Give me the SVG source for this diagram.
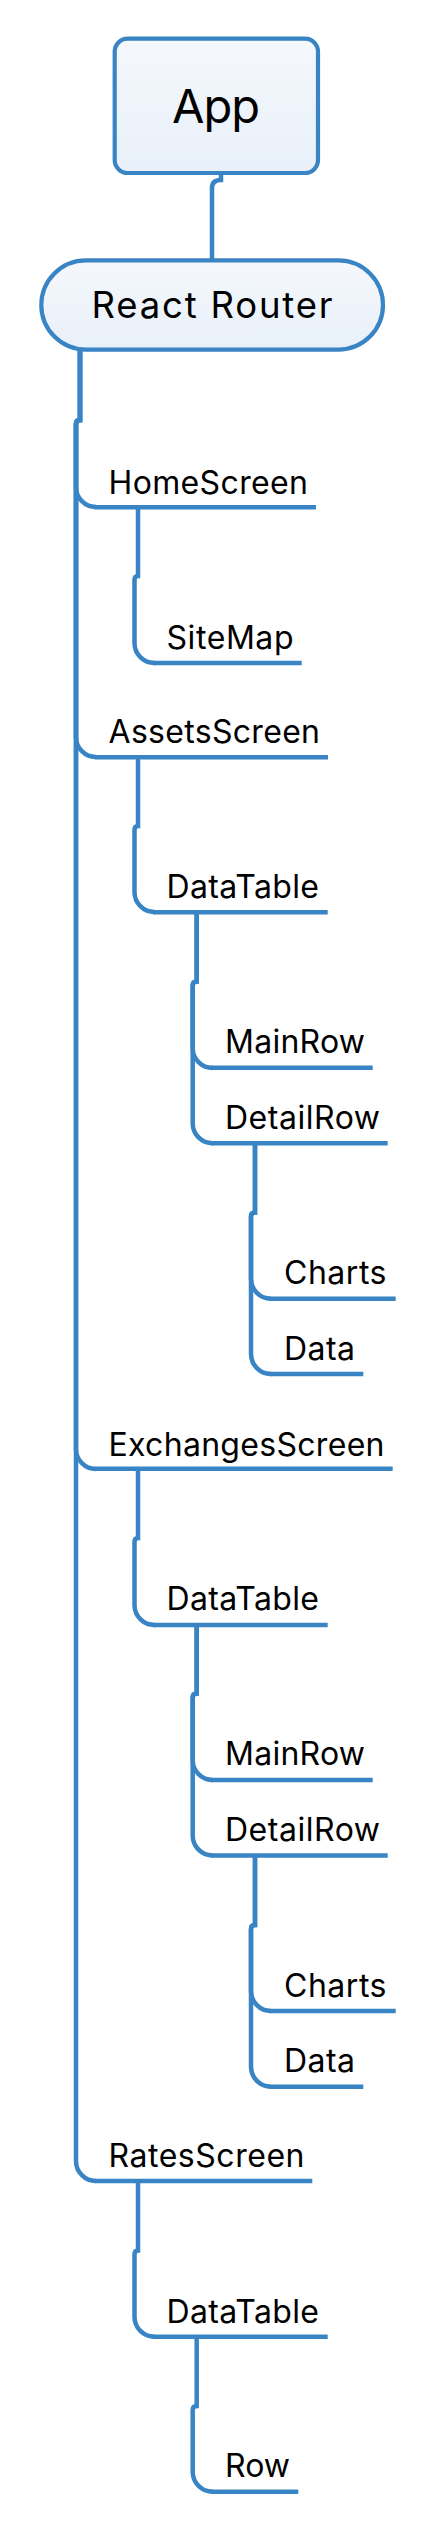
<svg xmlns="http://www.w3.org/2000/svg" width="433" height="2532" viewBox="0 0 433 2532">
<style>
.box{fill:url(#g);stroke:#3984c4;stroke-width:4.2}
.ln{fill:none;stroke:#3984c4;stroke-width:4.5}
.t{font-family:Inter,"Liberation Sans",sans-serif;fill:#000}
.lbl{font-size:32px}
</style>
<defs>
<linearGradient id="g" x1="0" y1="0" x2="0" y2="1">
<stop offset="0" stop-color="#f5f8fc"/>
<stop offset="1" stop-color="#e8f0f9"/>
</linearGradient>
</defs>
<rect width="433" height="2532" fill="#fff"/>
<g id="connectors">
<path class="ln" d="M221 174 V180 Q212 180 212 188 V261"/>
<path class="ln" d="M80 350 V420 Q76 420 76 424 V487 A20 20 0 0 0 96 507"/>
<path class="ln" d="M80 350 V420 Q76 420 76 424 V737 A20 20 0 0 0 96 757"/>
<path class="ln" d="M80 350 V420 Q76 420 76 424 V1449 A20 20 0 0 0 96 1469"/>
<path class="ln" d="M80 350 V420 Q76 420 76 424 V2161 A20 20 0 0 0 96 2181"/>
<path class="ln" d="M138 507 V576 Q134.5 576 134.5 580 V643 A20 20 0 0 0 154.5 663"/>
<path class="ln" d="M138 757 V826 Q134.5 826 134.5 830 V892 A20 20 0 0 0 154.5 912"/>
<path class="ln" d="M196.7 912 V981.5 Q192.7 981.5 192.7 985.5 V1048 A20 20 0 0 0 212.7 1068"/>
<path class="ln" d="M196.7 912 V981.5 Q192.7 981.5 192.7 985.5 V1123.3 A20 20 0 0 0 212.7 1143.3"/>
<path class="ln" d="M255 1143.3 V1212.5 Q251 1212.5 251 1216.5 V1278.7 A20 20 0 0 0 271 1298.7"/>
<path class="ln" d="M255 1143.3 V1212.5 Q251 1212.5 251 1216.5 V1354 A20 20 0 0 0 271 1374"/>
<path class="ln" d="M138 1469 V1538 Q134.5 1538 134.5 1542 V1605 A20 20 0 0 0 154.5 1625"/>
<path class="ln" d="M196.7 1625 V1693.5 Q192.7 1693.5 192.7 1697.5 V1760 A20 20 0 0 0 212.7 1780"/>
<path class="ln" d="M196.7 1625 V1693.5 Q192.7 1693.5 192.7 1697.5 V1835.5 A20 20 0 0 0 212.7 1855.5"/>
<path class="ln" d="M255 1855.5 V1925 Q251 1925 251 1929 V1991 A20 20 0 0 0 271 2011"/>
<path class="ln" d="M255 1855.5 V1925 Q251 1925 251 1929 V2066.7 A20 20 0 0 0 271 2086.7"/>
<path class="ln" d="M138 2181 V2250.5 Q134.5 2250.5 134.5 2254.5 V2316.7 A20 20 0 0 0 154.5 2336.7"/>
<path class="ln" d="M196.7 2336.7 V2406 Q192.7 2406 192.7 2410 V2471.7 A20 20 0 0 0 212.7 2491.7"/>
</g>
<g id="app">
<rect class="box" x="114.7" y="38.7" width="203.3" height="134.3" rx="13"/>
<text class="t" x="216" y="123.3" font-size="47" text-anchor="middle" textLength="88">App</text>
</g>
<g id="router">
<rect class="box" x="41.3" y="260.3" width="341.7" height="89.4" rx="44.7"/>
<text class="t" x="212" y="317.5" font-size="36.5" text-anchor="middle" textLength="241">React Router</text>
</g>
<g id="homescreen"><text class="t lbl" x="108.5" y="494" textLength="199.5">HomeScreen</text><path class="ln" d="M95 507.3 H316"/></g>
<g id="sitemap"><text class="t lbl" x="166.5" y="648.5" textLength="127">SiteMap</text><path class="ln" d="M153 663 H301.7"/></g>
<g id="assetsscreen"><text class="t lbl" x="108.5" y="743" textLength="211.5">AssetsScreen</text><path class="ln" d="M95 757.3 H328"/></g>
<g id="datatable1"><text class="t lbl" x="166.5" y="897.5" textLength="152.5">DataTable</text><path class="ln" d="M153 912.3 H327.7"/></g>
<g id="mainrow1"><text class="t lbl" x="225" y="1053.3" textLength="140">MainRow</text><path class="ln" d="M211 1067.7 H372.7"/></g>
<g id="detailrow1"><text class="t lbl" x="225" y="1128.5" textLength="155">DetailRow</text><path class="ln" d="M211 1143.3 H387.7"/></g>
<g id="charts1"><text class="t lbl" x="284" y="1284.3" textLength="102.5">Charts</text><path class="ln" d="M269.5 1298.7 H395.7"/></g>
<g id="data1"><text class="t lbl" x="284" y="1360" textLength="71">Data</text><path class="ln" d="M269.5 1374 H363.3"/></g>
<g id="exchangesscreen"><text class="t lbl" x="108.5" y="1456" textLength="276">ExchangesScreen</text><path class="ln" d="M95 1468.7 H392.7"/></g>
<g id="datatable2"><text class="t lbl" x="166.5" y="1610" textLength="152.5">DataTable</text><path class="ln" d="M153 1625 H327.7"/></g>
<g id="mainrow2"><text class="t lbl" x="225" y="1765" textLength="140">MainRow</text><path class="ln" d="M211 1780 H372.7"/></g>
<g id="detailrow2"><text class="t lbl" x="225" y="1840.5" textLength="155">DetailRow</text><path class="ln" d="M211 1855.5 H387.7"/></g>
<g id="charts2"><text class="t lbl" x="284" y="1996.5" textLength="102.5">Charts</text><path class="ln" d="M269.5 2011 H395.7"/></g>
<g id="data2"><text class="t lbl" x="284" y="2072" textLength="71">Data</text><path class="ln" d="M269.5 2086.7 H363.3"/></g>
<g id="ratesscreen"><text class="t lbl" x="108.5" y="2167.3" textLength="196">RatesScreen</text><path class="ln" d="M95 2181 H312.3"/></g>
<g id="datatable3"><text class="t lbl" x="166.5" y="2322.7" textLength="152.5">DataTable</text><path class="ln" d="M153 2336.7 H327.7"/></g>
<g id="row"><text class="t lbl" x="225" y="2477" textLength="65">Row</text><path class="ln" d="M211 2491.7 H298.3"/></g>
</svg>
